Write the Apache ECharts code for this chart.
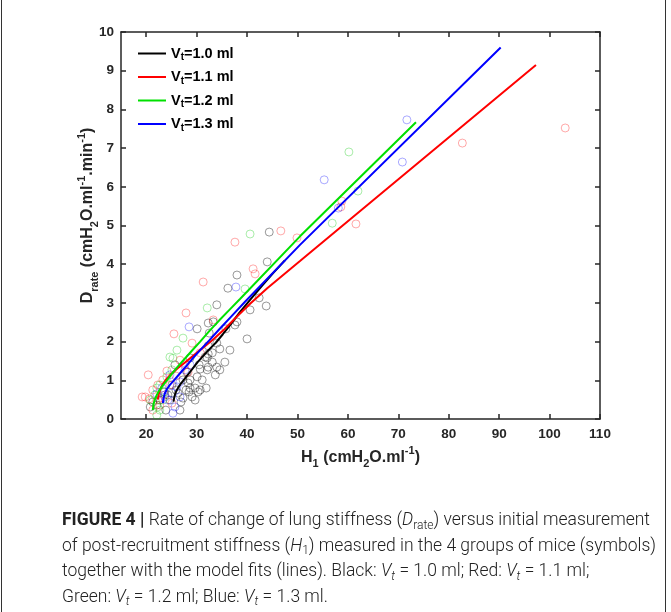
<!DOCTYPE html>
<html>
<head>
<meta charset="utf-8">
<script src="https://cdn.jsdelivr.net/npm/echarts@6/dist/echarts.min.js"></script>
<style>
html,body{margin:0;padding:0;background:#fff;}
#chart{width:671px;height:612px;}
</style>
</head>
<body>
<div id="chart"></div>
<script>
// ---- Data ----
const xTicks = [20, 30, 40, 50, 60, 70, 80, 90, 100, 110];
const yTicks = [0, 1, 2, 3, 4, 5, 6, 7, 8, 9, 10];
const seriesNames = ['Vt=1.0 ml', 'Vt=1.1 ml', 'Vt=1.2 ml', 'Vt=1.3 ml'];

// model fits (lines)
const fitBlack = [[25.4,0.45],[25.6,0.58],[25.9,0.70],[26.3,0.80],[26.8,0.90],[27.5,1.02],[28.3,1.15],[29.2,1.30],[30.2,1.47],[31.3,1.63],[32.5,1.80],[33.8,1.97],[35.2,2.19],[36.8,2.45],[38.5,2.75],[40.6,3.08],[43,3.45],[45.3,3.79],[47.5,4.1]];
const fitRed = [[22.3,0.5],[22.5,0.65],[22.8,0.77],[23.3,0.9],[24,1.03],[25,1.17],[26.3,1.32],[27.7,1.46],[29,1.6],[30.5,1.76],[32,1.92],[33.5,2.08],[35.5,2.32],[38,2.65],[40.6,2.98],[44,3.38],[50.5,4.08],[97.3,9.15]];
const fitGreen = [[21.3,0.23],[21.45,0.38],[21.7,0.5],[22.1,0.62],[22.6,0.74],[23.3,0.87],[24.1,1.0],[25.1,1.17],[26.3,1.36],[27.6,1.55],[29.1,1.77],[30.7,2.0],[32.5,2.27],[34.5,2.55],[36.5,2.82],[38.6,3.1],[50.5,4.72],[73.5,7.67]];
const fitBlue = [[23.3,0.41],[23.45,0.55],[23.7,0.66],[24.1,0.77],[24.7,0.88],[25.5,1.0],[26.5,1.15],[27.7,1.33],[29.1,1.55],[30.7,1.78],[32.5,2.03],[34.5,2.32],[36.8,2.64],[39.6,3.03],[50.5,4.5],[90.3,9.6]];

// measurements (symbols)
const ptsBlack = [[44.4,4.83],[44.0,4.06],[38.0,3.72],[36.2,3.38],[42.4,3.13],[34.0,2.95],[43.8,2.92],[40.6,2.82],[30.1,2.33],[32.3,2.48],[33.3,2.51],[38.0,2.51],[37.6,2.43],[35.8,2.33],[40.0,2.07],[36.6,1.78],[34.0,1.96],[34.6,1.81],[32.3,1.89],[32.3,1.68],[33.1,1.47],[32.3,1.34],[34.0,1.34],[30.1,1.09],[29.7,0.80],[28.7,0.80],[28.5,0.70],[29.1,0.57],[27.3,0.54],[26.9,0.44],[26.3,0.67],[32.1,1.58],[32.1,1.27],[28.7,1.01],[28.3,0.93],[30.7,1.29],[30.5,1.40],[28.7,1.58],[28.1,1.21],[21.3,0.44],[20.8,0.31],[22.1,0.36],[32.5,2.22],[33.1,1.71],[31.7,1.60],[25.7,1.40],[27.3,1.01],[25.1,0.88],[24.3,0.62],[25.9,0.75],[23.5,0.70],[27.9,0.75],[29.7,0.49],[30.7,0.75],[31.1,1.01],[35.6,1.47],[34.6,1.27],[33.7,1.14],[31.9,0.80],[30.3,0.70],[22.7,0.49],[24.7,0.49],[26.7,0.23],[23.9,0.23]];
const ptsRed = [[103.1,7.52],[82.7,7.13],[58.8,5.63],[58.6,5.48],[61.6,5.04],[46.7,4.86],[37.6,4.57],[41.2,3.88],[41.6,3.75],[31.3,3.54],[27.9,2.74],[25.5,2.20],[29.1,1.96],[20.4,1.14],[19.2,0.57],[19.8,0.57],[20.6,0.52],[21.3,0.75],[23.3,1.01],[22.3,0.88],[24.1,1.24],[21.3,0.23],[22.7,0.36],[33.3,2.56],[49.9,4.68],[26.7,1.52],[27.7,1.40],[25.9,1.11],[24.7,0.88],[30.7,1.71],[28.3,1.21],[23.7,0.62],[25.1,0.41],[22.3,0.49]];
const ptsGreen = [[60.2,6.90],[62.0,5.89],[56.9,5.06],[40.6,4.78],[32.1,2.87],[27.3,2.09],[26.1,1.78],[24.7,1.60],[25.3,1.57],[22.1,0.10],[22.3,0.31],[22.7,0.23],[23.3,0.49],[24.1,1.09],[25.1,1.27],[22.7,0.88],[22.1,0.80],[39.6,3.36],[21.7,0.62],[23.7,0.70],[20.8,0.49]];
const ptsBlue = [[71.7,7.73],[70.8,6.64],[55.3,6.18],[58.1,5.45],[37.8,3.41],[28.5,2.38],[25.3,0.15],[22.1,0.65],[23.1,0.80],[23.7,0.57],[24.3,0.49],[25.1,0.67],[26.1,0.83],[26.7,0.57],[25.7,0.31],[26.7,0.96],[27.7,1.27],[24.7,1.14],[28.7,1.40]];

const lineColors = ['#000000', '#ff0000', '#00e000', '#0000ff'];
const ptColors = ['rgba(0,0,0,0.5)', 'rgba(255,0,0,0.42)', 'rgba(0,200,0,0.42)', 'rgba(0,0,255,0.42)'];
const fits = [fitBlack, fitRed, fitGreen, fitBlue];
const pts = [ptsBlack, ptsRed, ptsGreen, ptsBlue];

const axisFont = 'Liberation Sans, Arial, sans-serif';
const axisColor = '#262626';

const series = [];
pts.forEach((p, i) => {
  series.push({
    type: 'scatter', name: 'pts' + i, data: p, symbol: 'circle', symbolSize: 8, z: 2,
    itemStyle: { color: 'rgba(0,0,0,0)', borderColor: ptColors[i], borderWidth: 1 },
    silent: true
  });
});
fits.forEach((f, i) => {
  series.push({
    type: 'line', name: seriesNames[i], data: f, showSymbol: false, symbol: 'none',
    smooth: false, z: 3,
    lineStyle: { color: lineColors[i], width: 2 }, itemStyle: { color: lineColors[i] }
  });
});

const titleRich = {
  b: { fontFamily: axisFont, fontWeight: 'bold', fontSize: 16, color: axisColor, lineHeight: 24 },
  s: { fontFamily: axisFont, fontWeight: 'bold', fontSize: 11, color: axisColor, lineHeight: 11, verticalAlign: 'bottom' },
  p: { fontFamily: axisFont, fontWeight: 'bold', fontSize: 11, color: axisColor, lineHeight: 11, verticalAlign: 'top' }
};

const baseAxis = {
  type: 'value',
  axisLine: { show: true, onZero: false, lineStyle: { color: axisColor, width: 1.5 } },
  axisTick: { show: true, inside: true, length: 5, lineStyle: { color: axisColor, width: 1.5 } },
  splitLine: { show: false },
  axisLabel: { fontFamily: axisFont, fontWeight: 'bold', fontSize: 13.5, color: axisColor }
};

const capFont = 'Roboto, sans-serif';
const capSize = 17.5;
const capRich = {
  n: { fontFamily: capFont, fontWeight: 300, fontSize: capSize, fill: '#222', lineHeight: 21 },
  bo: { fontFamily: capFont, fontWeight: 'bold', fontSize: capSize, fill: '#222', lineHeight: 21 },
  i: { fontFamily: capFont, fontWeight: 300, fontStyle: 'italic', fontSize: capSize, fill: '#222', lineHeight: 21 },
  sb: { fontFamily: capFont, fontWeight: 300, fontSize: 12, fill: '#222', lineHeight: 12, verticalAlign: 'bottom' },
  si: { fontFamily: capFont, fontWeight: 300, fontStyle: 'italic', fontSize: 12, fill: '#222', lineHeight: 12, verticalAlign: 'bottom' }
};
const captionLines = [
  '{bo|FIGURE 4 | }{n|Rate of change of lung stiffness (}{i|D}{sb|rate}{n|) versus initial measurement}',
  '{n|of post-recruitment stiffness (}{i|H}{sb|1}{n|) measured in the 4 groups of mice (symbols)}',
  '{n|together with the model fits (lines). Black: }{i|V}{si|t}{n| = 1.0 ml; Red: }{i|V}{si|t}{n| = 1.1 ml;}',
  '{n|Green: }{i|V}{si|t}{n| = 1.2 ml; Blue: }{i|V}{si|t}{n| = 1.3 ml.}'
];
const captionY = [523, 548.5, 574, 599.5];

const graphics = [
  { type: 'line', shape: { x1: 1.5, y1: 0, x2: 1.5, y2: 612 }, style: { stroke: '#333', lineWidth: 1 }, silent: true },
  { type: 'line', shape: { x1: 665.5, y1: 0, x2: 665.5, y2: 612 }, style: { stroke: '#333', lineWidth: 1 }, silent: true }
];
captionLines.forEach((t, k) => {
  graphics.push({ type: 'text', left: 62, top: captionY[k] - 11, silent: true,
    style: { text: t, rich: capRich, fill: '#222' } });
});

const chart = echarts.init(document.getElementById('chart'), null, { renderer: 'canvas' });
chart.setOption({
  backgroundColor: '#fff',
  animation: false,
  grid: { left: 121, right: 71, top: 32, bottom: 193, containLabel: false },
  legend: {
    data: seriesNames, orient: 'vertical', left: 133, top: 41,
    itemWidth: 28, itemHeight: 2, itemGap: 7, icon: 'rect',
    formatter: function (name) {
      const v = name.replace('Vt', '');
      return '{a|V}{s|t}{a|' + v + '}';
    },
    textStyle: {
      rich: {
        a: { fontFamily: axisFont, fontWeight: 'bold', fontSize: 14.5, color: '#000', lineHeight: 18 },
        s: { fontFamily: axisFont, fontWeight: 'bold', fontSize: 10, color: '#000', lineHeight: 10, verticalAlign: 'bottom' }
      }
    },
    itemStyle: { borderWidth: 0 }
  },
  xAxis: [
    Object.assign({}, baseAxis, {
      min: 15, max: 110, position: 'bottom',
      axisTick: Object.assign({}, baseAxis.axisTick, { customValues: xTicks }),
      axisLabel: Object.assign({}, baseAxis.axisLabel, { customValues: xTicks, margin: 8 }),
      name: '{b|H}{s|1}{b| (cmH}{s|2}{b|O.ml}{p|-1}{b|)}',
      nameLocation: 'middle', nameGap: 26, nameTextStyle: { rich: titleRich }
    }),
    Object.assign({}, baseAxis, {
      min: 15, max: 110, position: 'top',
      axisTick: Object.assign({}, baseAxis.axisTick, { customValues: xTicks }),
      axisLabel: { show: false }
    })
  ],
  yAxis: [
    Object.assign({}, baseAxis, {
      min: 0, max: 10, interval: 1, position: 'left',
      axisLabel: Object.assign({}, baseAxis.axisLabel, { margin: 7 }),
      name: '{b|D}{s|rate}{b| (cmH}{s|2}{b|O.ml}{p|-1}{b|.min}{p|-1}{b|)}',
      nameLocation: 'middle', nameRotate: 90, nameGap: 21, nameMoveOverlap: false,
      nameTextStyle: { rich: titleRich, padding: [0, 0, 0, 20] }
    }),
    Object.assign({}, baseAxis, {
      min: 0, max: 10, interval: 1, position: 'right',
      axisLabel: { show: false }
    })
  ],
  series: series,
  graphic: graphics
});
</script>
</body>
</html>
